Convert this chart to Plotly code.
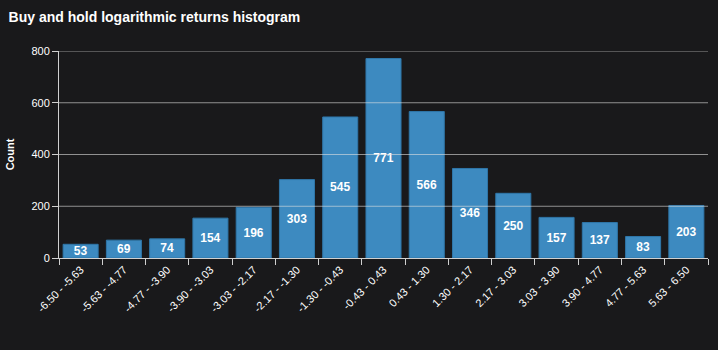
import plotly.graph_objects as go

categories = ["-6.50 - -5.63", "-5.63 - -4.77", "-4.77 - -3.90", "-3.90 - -3.03",
              "-3.03 - -2.17", "-2.17 - -1.30", "-1.30 - -0.43", "-0.43 - 0.43",
              "0.43 - 1.30", "1.30 - 2.17", "2.17 - 3.03", "3.03 - 3.90",
              "3.90 - 4.77", "4.77 - 5.63", "5.63 - 6.50"]
counts = [53, 69, 74, 154, 196, 303, 545, 771, 566, 346, 250, 157, 137, 83, 203]
y_ticks = [0, 200, 400, 600, 800]

bg = "#19191b"
fig = go.Figure(go.Bar(
    x=categories, y=counts, text=[str(c) for c in counts],
    textposition="inside", insidetextanchor="middle", textangle=0,
    constraintext="none", cliponaxis=False,
    textfont=dict(color="white", size=12, family="Liberation Sans"),
    texttemplate="<b>%{text}</b>",
    marker=dict(color="#3d8ac0", line=dict(width=1, color="#2f76a8")),
))
shapes = [dict(type="line", xref="paper", yref="y", x0=0, x1=1, y0=v, y1=v,
               layer="above", line=dict(color="rgba(225,225,225,0.6)", width=1))
          for v in y_ticks[1:]]
fig.update_layout(
    width=718, height=350, paper_bgcolor=bg, plot_bgcolor=bg,
    margin=dict(l=53, r=10, t=51, b=92),
    bargap=0.19, showlegend=False, shapes=shapes,
    font=dict(family="Liberation Sans", color="white", size=11),
    title=dict(text="<b>Buy and hold logarithmic returns histogram</b>",
               x=0.012, xanchor="left", y=0.965, yanchor="top",
               font=dict(size=14, color="white")),
    uniformtext=dict(minsize=8, mode="show"),
)
fig.update_yaxes(range=[0, 800], tickvals=y_ticks,
                 showgrid=False,
                 showline=True, linecolor="#d0d0d0", linewidth=1,
                 ticks="outside", ticklen=6, tickcolor="#d0d0d0",
                 tickfont=dict(size=11, color="white"), zeroline=False,
                 title=dict(text="<b>Count</b>", font=dict(size=11, color="white"), standoff=14))
fig.update_xaxes(showline=True, linecolor="#d0d0d0", linewidth=1,
                 ticks="outside", ticklen=6, tickcolor="#d0d0d0",
                 tickson="boundaries", tickangle=-45,
                 tickfont=dict(size=11, color="white"), showgrid=False)
fig.write_html("out.html")
